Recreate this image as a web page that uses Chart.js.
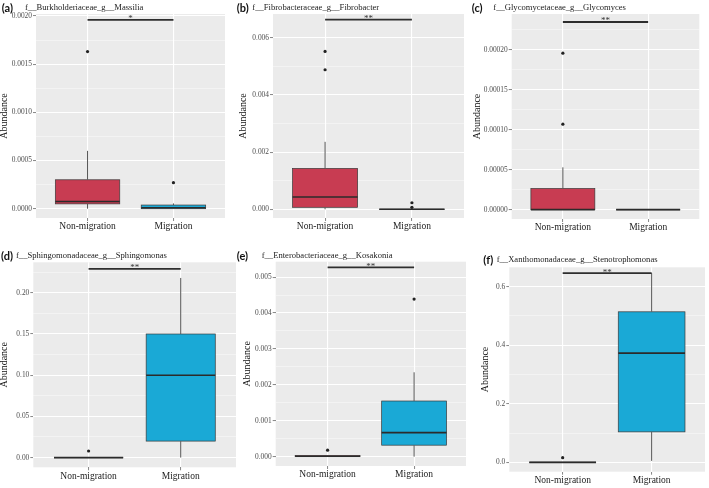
<!DOCTYPE html>
<html><head><meta charset="utf-8">
<script src="https://cdn.jsdelivr.net/npm/chart.js@4"></script>
<style>
html,body{margin:0;padding:0;background:#fff;}
#wrap{position:relative;width:709px;height:488px;overflow:hidden;}
.cv{position:absolute;}
.tag{position:absolute;font:bold 11px Lato,"Liberation Sans",sans-serif;color:#111;white-space:nowrap;line-height:1;}
.ttl{position:absolute;font-size:8.6px;font-family:"Liberation Serif","Times New Roman",Times,"DejaVu Serif",serif;color:#222;white-space:nowrap;line-height:1;}
</style></head><body><div id="wrap"></div>
<script>
// ---------- data ----------
const groups = ['Non-migration', 'Migration'];
const panelTags = ['(a)', '(b)', '(c)', '(d)', '(e)', '(f)'];
const taxa = [
  'f__Burkholderiaceae_g__Massilia',
  'f__Fibrobacteraceae_g__Fibrobacter',
  'f__Glycomycetaceae_g__Glycomyces',
  'f__Sphingomonadaceae_g__Sphingomonas',
  'f__Enterobacteriaceae_g__Kosakonia',
  'f__Xanthomonadaceae_g__Stenotrophomonas'
];
// each entry: [Non-migration, Migration]
const whiskerLow  = [[0, 0], [0, 0], [0, 0], [0, 0], [0, 0], [0, 0.005]];
const boxQ1       = [[0.00005, 0], [0.00007, 0], [0, 0], [0, 0.02], [0, 0.00032], [0, 0.104]];
const boxMedian   = [[0.000075, 0.00001], [0.00043, 0], [0, 0], [0, 0.10], [0.00001, 0.00067], [0, 0.373]];
const boxQ3       = [[0.0003, 0.000038], [0.00143, 0.000005], [0.0000265, 0], [0, 0.15], [0.00003, 0.00155], [0, 0.514]];
const whiskerHigh = [[0.0006, 0.000055], [0.00236, 0.00001], [0.000053, 0], [0, 0.218], [0.00004, 0.00235], [0, 0.646]];
const outliers    = [
  [[0.00163], [0.00027]],
  [[0.00552, 0.00488], [0.00023, 0.00007]],
  [[0.000196, 0.000107], []],
  [[0.008], []],
  [[0.00018], [0.00439]],
  [[0.016], []]
];
const sigLevel = [0.00196, 0.00663, 0.000235, 0.229, 0.00527, 0.646];
const sigLabel = ['*', '**', '**', '**', '**', '**'];
const yMin  = [-0.0000965, -0.000304, -0.0000117, -0.0118, -0.00026, -0.032];
const yMax  = [0.00202, 0.00683, 0.000245, 0.237, 0.00543, 0.666];
const yStep = [0.0005, 0.002, 0.00005, 0.05, 0.001, 0.2];
const yDecimals = [4, 3, 5, 2, 3, 1];

// ---------- layout / style ----------
const SERIF = '"Liberation Serif", "Times New Roman", Times, "DejaVu Serif", serif';
const layout = [
  {x0:0,   y0:0,   w:232, h:235, L:36,    T:14,    R:225,   B:218,   tagX:1.7,   titleX:25,    base:10,    yTitle:4.5},
  {x0:236, y0:0,   w:232, h:235, L:273,   T:14,    R:464,   B:218,   tagX:236.7, titleX:252.3, base:10,    yTitle:7.3},
  {x0:471, y0:0,   w:238, h:235, L:511.7, T:14,    R:699.3, B:219,   tagX:471.7, titleX:493.3, base:10,    yTitle:6.8},
  {x0:0,   y0:245, w:240, h:243, L:33.3,  T:262.3, R:237.3, B:467.3, tagX:1,     titleX:16,    base:257.7, yTitle:4.2},
  {x0:236, y0:245, w:234, h:243, L:275.7, T:261.7, R:467.3, B:466,   tagX:236.7, titleX:261.7, base:258,   yTitle:11.5},
  {x0:471, y0:245, w:238, h:243, L:509.3, T:267.3, R:705,   B:471.7, tagX:483.3, titleX:496.7, base:261.7, yTitle:14.8}
];
const fills = ['#C83C52', '#1AA9D6'];
const BOX_HALF = 0.375;

const boxPlugin = {
  id: 'boxes',
  beforeDraw(chart) {
    const {ctx, chartArea: a} = chart;
    ctx.save();
    ctx.fillStyle = '#EBEBEB';
    ctx.fillRect(a.left, a.top, a.right - a.left, a.bottom - a.top);
    ctx.restore();
  },
  beforeDatasetsDraw(chart, args, opts) {
    const p = opts.panel;
    const {ctx, scales: {x, y}} = chart;
    ctx.save();
    for (let g = 0; g < 2; g++) {
      const l = x.getPixelForValue(g + 1 - BOX_HALF);
      const r = x.getPixelForValue(g + 1 + BOX_HALF);
      const t = y.getPixelForValue(boxQ3[p][g]);
      const b = y.getPixelForValue(boxQ1[p][g]);
      if (b - t > 0.5) {
        ctx.fillStyle = fills[g];
        ctx.fillRect(l, t, r - l, b - t);
      }
      ctx.strokeStyle = '#3a3a3a';
      ctx.lineWidth = 0.7;
      ctx.strokeRect(l, t, r - l, b - t);
    }
    ctx.restore();
  },
  afterDatasetsDraw(chart, args, opts) {
    const p = opts.panel;
    const {ctx, scales: {x, y}} = chart;
    ctx.save();
    ctx.fillStyle = '#333';
    ctx.font = '9px ' + SERIF;
    ctx.textAlign = 'center';
    ctx.textBaseline = 'alphabetic';
    ctx.fillText(sigLabel[p], x.getPixelForValue(1.5), y.getPixelForValue(sigLevel[p]) + 1.5);
    ctx.restore();
  }
};

const wrap = document.getElementById('wrap');

for (let p = 0; p < 6; p++) {
  const lo = layout[p];
  const cv = document.createElement('canvas');
  cv.className = 'cv';
  cv.width = lo.w; cv.height = lo.h;
  cv.style.left = lo.x0 + 'px'; cv.style.top = lo.y0 + 'px';
  cv.style.width = lo.w + 'px'; cv.style.height = lo.h + 'px';
  wrap.appendChild(cv);

  const tag = document.createElement('div');
  tag.className = 'tag'; tag.textContent = panelTags[p];
  tag.style.left = lo.tagX + 'px'; tag.style.top = (lo.base + 1 - 9.2) + 'px';
  wrap.appendChild(tag);
  const ttl = document.createElement('div');
  ttl.className = 'ttl'; ttl.textContent = taxa[p];
  ttl.style.left = lo.titleX + 'px'; ttl.style.top = (lo.base - 7.2) + 'px';
  wrap.appendChild(ttl);

  const datasets = [];
  datasets.push({
    data: [{x: 1, y: sigLevel[p]}, {x: 2, y: sigLevel[p]}],
    showLine: true, borderColor: '#2e2e2e', borderWidth: 1.8, pointRadius: 0
  });
  for (let g = 0; g < 2; g++) {
    const cx = g + 1;
    datasets.push({
      data: outliers[p][g].map(v => ({x: cx, y: v})),
      showLine: false, pointRadius: 1.6, pointBackgroundColor: '#222', pointBorderWidth: 0
    });
    datasets.push({
      data: [{x: cx - BOX_HALF, y: boxMedian[p][g]}, {x: cx + BOX_HALF, y: boxMedian[p][g]}],
      showLine: true, borderColor: '#2b2b2b', borderWidth: 1.6, pointRadius: 0
    });
    datasets.push({
      data: [{x: cx, y: boxQ3[p][g]}, {x: cx, y: whiskerHigh[p][g]}],
      showLine: true, borderColor: '#555', borderWidth: 1, pointRadius: 0
    });
    datasets.push({
      data: [{x: cx, y: whiskerLow[p][g]}, {x: cx, y: boxQ1[p][g]}],
      showLine: true, borderColor: '#555', borderWidth: 1, pointRadius: 0
    });
  }

  const step = yStep[p], half = step / 2;
  new Chart(cv, {
    type: 'scatter',
    data: {datasets},
    options: {
      responsive: false, animation: false, devicePixelRatio: 1,
      layout: {padding: {left: 0, top: lo.T - lo.y0, right: lo.x0 + lo.w - lo.R, bottom: 0}},
      plugins: {legend: {display: false}, tooltip: {enabled: false}, boxes: {panel: p}},
      scales: {
        x: {
          type: 'linear', min: 0.4, max: 2.6,
          afterBuildTicks: s => { s.ticks = [{value: 1}, {value: 2}]; },
          afterFit: s => { s.height = lo.y0 + lo.h - lo.B; },
          ticks: {
            callback: v => groups[Math.round(v) - 1] || '',
            font: {family: SERIF, size: 9.5},
            color: '#222', padding: 0, maxRotation: 0, autoSkip: false
          },
          grid: {color: '#ffffff', lineWidth: 1.1, tickLength: 3, tickColor: '#666', tickWidth: 0.8},
          border: {display: false}
        },
        y: {
          type: 'linear', min: yMin[p], max: yMax[p],
          afterBuildTicks: s => {
            const ticks = [];
            const k0 = Math.ceil(yMin[p] / half - 1e-9), k1 = Math.floor(yMax[p] / half + 1e-9);
            for (let k = k0; k <= k1; k++) ticks.push({value: k * half, major: k % 2 === 0});
            s.ticks = ticks;
          },
          afterFit: s => { s.width = lo.L - lo.x0; },
          ticks: {
            callback: (v, i, ts) => ts[i].major ? Number(v).toFixed(yDecimals[p]) : '',
            font: {family: SERIF, size: 7.4},
            color: '#4d4d4d', padding: 1, autoSkip: false
          },
          grid: {
            color: c => (c.tick && c.tick.major) ? '#ffffff' : 'rgba(255,255,255,0.75)',
            lineWidth: c => (c.tick && c.tick.major) ? 1.1 : 0.55,
            tickLength: 3,
            tickColor: c => (c.tick && c.tick.major) ? '#666' : 'rgba(0,0,0,0)',
            tickWidth: 0.8
          },
          border: {display: false},
          title: {
            display: true, text: 'Abundance', color: '#111',
            font: {family: SERIF, size: 10, lineHeight: 1},
            padding: {top: lo.yTitle - 5, bottom: 0}
          }
        }
      }
    },
    plugins: [boxPlugin]
  });
}
</script></body></html>
